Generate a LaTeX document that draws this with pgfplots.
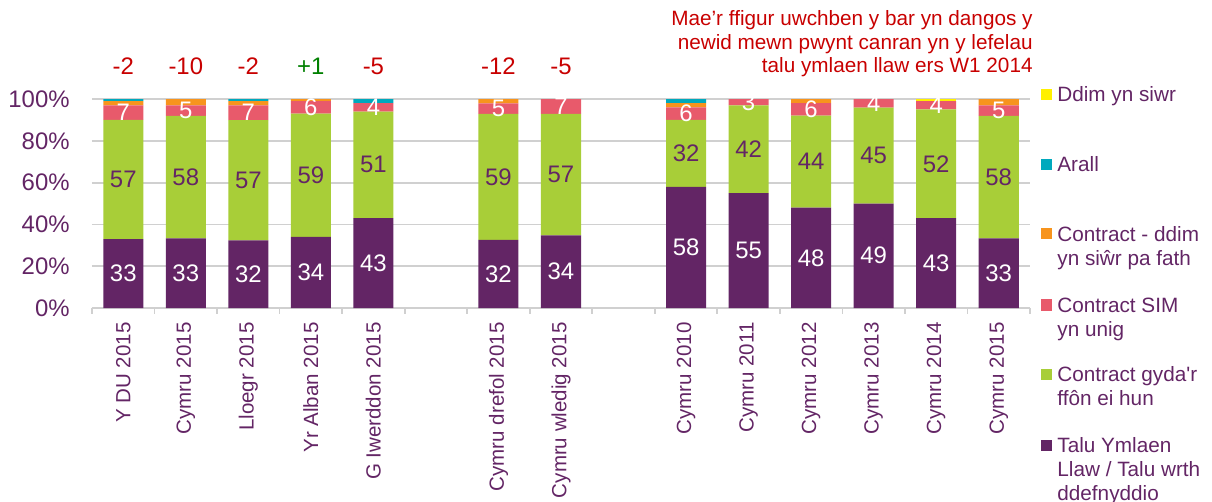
\documentclass[border=0pt]{standalone}
\usepackage{pgfplots}
\pgfplotsset{compat=1.18}
\usepackage{pgfplotstable}
\usepackage{fontspec}
\setmainfont{Liberation Sans}

\definecolor{cpurple}{RGB}{99,37,101}
\definecolor{cgreen}{RGB}{168,206,56}
\definecolor{cpink}{RGB}{232,90,107}
\definecolor{corange}{RGB}{247,148,29}
\definecolor{cteal}{RGB}{0,169,189}
\definecolor{cyellow}{RGB}{255,240,0}
\definecolor{cred}{RGB}{200,0,0}
\definecolor{cgrn}{RGB}{0,128,0}
\definecolor{gridgrey}{RGB}{208,208,208}

% a = talu ymlaen, b = contract + ffon, c = SIM, d = contract ddim yn siwr, e = arall, f = ddim yn siwr
\pgfplotstableread{
x  a  b  c  d  e  f
0  33 57 7  2  1  0
1  33 58 5  3  0  0
2  32 57 7  2  1  0
3  34 59 6  1  0  0
4  43 51 4  0  2  0
6  32 59 5  2  0  0
7  34 57 7  0  0  0
9  58 32 6  2  2  0
10 55 42 3  0  0  0
11 48 44 6  2  0  0
12 49 45 4  0  0  0
13 43 52 4  0  0  1
14 33 58 5  3  0  0
}\data

\newcommand\tot{(\thisrow{a}+\thisrow{b}+\thisrow{c}+\thisrow{d}+\thisrow{e}+\thisrow{f})}
\newcommand\fnum{\fontsize{12}{14}\selectfont}
\newcommand\fleg{\fontsize{10.4}{12}\selectfont}

\begin{document}
\begin{tikzpicture}
\begin{axis}[at={(0,0)}, anchor=south west,
  scale only axis, width=469bp, height=104.5bp,
  xmin=-0.5, xmax=14.5, ymin=0, ymax=100,
  ybar stacked, bar width=0.64,
  axis x line*=bottom, axis y line*=left,
  y axis line style={draw=none},
  x axis line style={draw=gridgrey, line width=0.9bp, -},
  ytick={0,20,...,100}, yticklabels={0\%,20\%,40\%,60\%,80\%,100\%},
  ymajorgrids, grid style={gridgrey, line width=0.9bp},
  major tick length=0pt, minor tick length=2.8bp, tick align=outside,
  xtick={0,1,2,3,4,6,7,9,10,11,12,13,14},
  xticklabels={Y DU 2015,Cymru 2015,Lloegr 2015,Yr Alban 2015,G Iwerddon 2015,Cymru drefol 2015,Cymru wledig 2015,Cymru 2010,Cymru 2011,Cymru 2012,Cymru 2013,Cymru 2014,Cymru 2015},
  minor xtick={-0.5,0.5,...,14.5},
  minor x tick style={draw=gridgrey, line width=0.9bp},
  x tick label style={rotate=90, anchor=east, inner sep=0pt, xshift=-7bp, font=\fontsize{10.3}{12}\selectfont, text=cpurple},
  y tick label style={anchor=east, inner sep=0pt, xshift=-11bp, font=\fnum, text=cpurple},
  /pgf/number format/assume math mode=true,
  clip=false]
\addplot[fill=cpurple, draw=none, nodes near coords, point meta=\thisrow{a},
  every node near coord/.style={anchor=center, font=\fnum, text=white}]
  table[x=x, y expr=100*\thisrow{a}/\tot] {\data};
\addplot[fill=cgreen, draw=none, nodes near coords, point meta=\thisrow{b},
  every node near coord/.style={anchor=center, font=\fnum, text=cpurple}]
  table[x=x, y expr=100*\thisrow{b}/\tot] {\data};
\addplot[fill=cpink, draw=none, nodes near coords, point meta=\thisrow{c},
  every node near coord/.style={anchor=center, font=\fnum, text=white}]
  table[x=x, y expr=100*\thisrow{c}/\tot] {\data};
\addplot[fill=corange, draw=none] table[x=x, y expr=100*\thisrow{d}/\tot] {\data};
\addplot[fill=cteal, draw=none] table[x=x, y expr=100*\thisrow{e}/\tot] {\data};
\addplot[fill=cyellow, draw=none] table[x=x, y expr=100*\thisrow{f}/\tot] {\data};
% change in pay-as-you-go share since 2014
\node[anchor=base, font=\fnum, text=cred] at (axis cs:0,111.5) {-2};
\node[anchor=base, font=\fnum, text=cred] at (axis cs:1,111.5) {-10};
\node[anchor=base, font=\fnum, text=cred] at (axis cs:2,111.5) {-2};
\node[anchor=base, font=\fnum, text=cgrn] at (axis cs:3,111.5) {+1};
\node[anchor=base, font=\fnum, text=cred] at (axis cs:4,111.5) {-5};
\node[anchor=base, font=\fnum, text=cred] at (axis cs:6,111.5) {-12};
\node[anchor=base, font=\fnum, text=cred] at (axis cs:7,111.5) {-5};
\end{axis}

% note
\node[anchor=base east, inner sep=0pt, font=\fleg, text=cred] at (470.5bp,141bp) {Mae’r ffigur uwchben y bar yn dangos y};
\node[anchor=base east, inner sep=0pt, font=\fleg, text=cred] at (470.5bp,129.25bp) {newid mewn pwynt canran yn y lefelau};
\node[anchor=base east, inner sep=0pt, font=\fleg, text=cred] at (470.5bp,117.5bp) {talu ymlaen llaw ers W1 2014};

% legend
\fill[cyellow] (474.5bp,103.75bp) rectangle ++(5.5bp,5.5bp);
\node[anchor=base west, inner sep=0pt, font=\fleg, text=cpurple] at (482.5bp,103bp) {Ddim yn siwr};
\fill[cteal] (474.5bp,68.75bp) rectangle ++(5.5bp,5.5bp);
\node[anchor=base west, inner sep=0pt, font=\fleg, text=cpurple] at (482.5bp,68bp) {Arall};
\fill[corange] (474.5bp,34.25bp) rectangle ++(5.5bp,5.5bp);
\node[anchor=base west, inner sep=0pt, font=\fleg, text=cpurple] at (482.5bp,33.5bp) {Contract - ddim};
\node[anchor=base west, inner sep=0pt, font=\fleg, text=cpurple] at (482.5bp,21.5bp) {yn siŵr pa fath};
\fill[cpink] (474.5bp,-1.25bp) rectangle ++(5.5bp,5.5bp);
\node[anchor=base west, inner sep=0pt, font=\fleg, text=cpurple] at (482.5bp,-2bp) {Contract SIM};
\node[anchor=base west, inner sep=0pt, font=\fleg, text=cpurple] at (482.5bp,-14bp) {yn unig};
\fill[cgreen] (474.5bp,-35.75bp) rectangle ++(5.5bp,5.5bp);
\node[anchor=base west, inner sep=0pt, font=\fleg, text=cpurple] at (482.5bp,-36.5bp) {Contract gyda\textquotesingle r};
\node[anchor=base west, inner sep=0pt, font=\fleg, text=cpurple] at (482.5bp,-48.5bp) {ffôn ei hun};
\fill[cpurple] (474.5bp,-71.25bp) rectangle ++(5.5bp,5.5bp);
\node[anchor=base west, inner sep=0pt, font=\fleg, text=cpurple] at (482.5bp,-72bp) {Talu Ymlaen};
\node[anchor=base west, inner sep=0pt, font=\fleg, text=cpurple] at (482.5bp,-84bp) {Llaw / Talu wrth};
\node[anchor=base west, inner sep=0pt, font=\fleg, text=cpurple] at (482.5bp,-96bp) {ddefnyddio};

\pgfresetboundingbox
\useasboundingbox (-46bp,-97bp) rectangle (560bp,154bp);
\end{tikzpicture}
\end{document}
